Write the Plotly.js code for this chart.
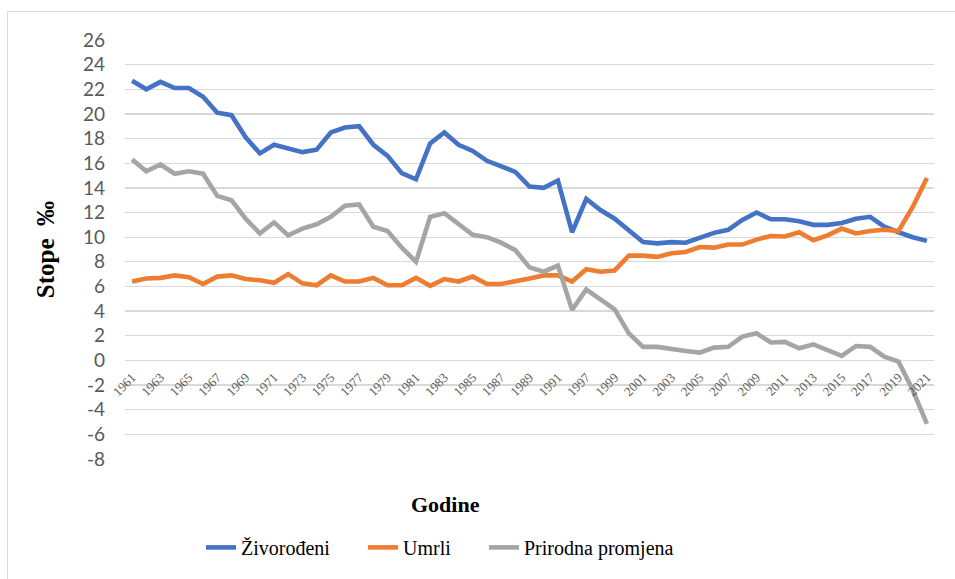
<!DOCTYPE html>
<html>
<head>
<meta charset="utf-8">
<script src="https://cdn.plot.ly/plotly-3.0.1.min.js"></script>
<style>
  html, body { margin: 0; padding: 0; background: #ffffff; }
  #frame { position: absolute; left: 7px; top: 11px; width: 1000px; height: 600px;
           border-left: 1px solid #d9d9d9; border-top: 1px solid #d9d9d9; }
  #chart { position: absolute; left: 0; top: 0; width: 955px; height: 579px; }
</style>
</head>
<body>
<div id="frame"></div>
<div id="chart"></div>
<script>
// Categories (years); one unlabeled category sits between 1991 and 1997
const years = [
  "1961","1962","1963","1964","1965","1966","1967","1968","1969","1970",
  "1971","1972","1973","1974","1975","1976","1977","1978","1979","1980",
  "1981","1982","1983","1984","1985","1986","1987","1988","1989","1990",
  "1991","1996","1997","1998","1999","2000","2001","2002","2003","2004",
  "2005","2006","2007","2008","2009","2010","2011","2012","2013","2014",
  "2015","2016","2017","2018","2019","2020","2021"
];

// Živorođeni (live births, ‰)
const zivorodeni = [
  22.7, 22.0, 22.6, 22.1, 22.1, 21.4, 20.1, 19.9, 18.1, 16.8,
  17.5, 17.2, 16.9, 17.1, 18.5, 18.9, 19.0, 17.5, 16.6, 15.2,
  14.7, 17.6, 18.5, 17.5, 17.0, 16.2, 15.7, 15.3, 14.1, 14.0,
  14.6, 10.4, 13.1, 12.2, 11.5, 10.6, 9.6, 9.5, 9.6, 9.55,
  10.0, 10.35, 10.6, 11.4, 12.0, 11.45, 11.45, 11.3, 11.0, 11.0,
  11.15, 11.5, 11.65, 10.85, 10.4, 10.0, 9.7
];

// Umrli (deaths, ‰)
const umrli = [
  6.4, 6.65, 6.7, 6.9, 6.75, 6.2, 6.8, 6.9, 6.6, 6.5,
  6.3, 7.0, 6.25, 6.1, 6.9, 6.4, 6.4, 6.7, 6.1, 6.1,
  6.7, 6.05, 6.6, 6.4, 6.8, 6.2, 6.2, 6.4, 6.65, 6.9,
  6.9, 6.4, 7.4, 7.2, 7.3, 8.5, 8.5, 8.4, 8.7, 8.8,
  9.2, 9.15, 9.4, 9.4, 9.8, 10.1, 10.05, 10.4, 9.75, 10.15,
  10.7, 10.3, 10.5, 10.6, 10.5, 12.45, 14.8
];

// Prirodna promjena (natural change, ‰)
const prirodna = [
  16.3, 15.35, 15.9, 15.15, 15.35, 15.15, 13.35, 13.0, 11.5, 10.3,
  11.2, 10.15, 10.7, 11.05, 11.65, 12.55, 12.65, 10.85, 10.5, 9.15,
  8.0, 11.65, 11.95, 11.1, 10.2, 10.0, 9.55, 8.95, 7.55, 7.2,
  7.7, 4.1, 5.75, 4.95, 4.15, 2.2, 1.1, 1.1, 0.9, 0.77,
  0.63, 1.04, 1.1, 1.93, 2.2, 1.45, 1.5, 0.98, 1.3, 0.85,
  0.36, 1.17, 1.1, 0.3, -0.1, -2.4, -5.15
];

const seriesNames = ["Živorođeni", "Umrli", "Prirodna promjena"];
const seriesColors = ["#4472C4", "#ED7D31", "#A5A5A5"];
const yTickMin = -8, yTickMax = 26, yTickStep = 2;

// every other category is labeled
const tickYears = years.filter((y, i) => i % 2 === 0);
// y ticks with a plain hyphen-minus, as in the original
const yTickVals = [];
for (let v = yTickMin; v <= yTickMax; v += yTickStep) yTickVals.push(v);
const yTickText = yTickVals.map(v => String(v));

const SERIF = "Liberation Serif";
const legendKeys = ["legend", "legend2", "legend3"];

const seriesData = [zivorodeni, umrli, prirodna];
const traces = seriesData.map((vals, k) => ({
  type: "scatter",
  mode: "lines",
  x: years,
  y: vals,
  name: seriesNames[k],
  legend: legendKeys[k],
  line: { color: seriesColors[k], width: 4.6, shape: "linear" },
  hoverinfo: "x+y+name"
}));

const zeroFrac = (0 - yTickMin) / (yTickMax - yTickMin);

// plot area in pixels
const PL = 125, PR = 934, PT = 40, PB = 459.5;
const pw = PR - PL, ph = PB - PT;
const px = X => (X - PL) / pw;
const py = Y => (PB - Y) / ph;

function legendAt(xpix) {
  return {
    orientation: "h",
    x: px(xpix), xanchor: "left",
    y: py(548), yanchor: "middle",
    bgcolor: "rgba(0,0,0,0)",
    font: { family: SERIF, size: 20, color: "#000000" }
  };
}

const layout = {
  width: 955,
  height: 579,
  margin: { l: PL, r: 955 - PR, t: PT, b: 579 - PB, autoexpand: false },
  paper_bgcolor: "rgba(0,0,0,0)",
  plot_bgcolor: "rgba(0,0,0,0)",
  showlegend: true,
  legend: legendAt(201),
  legend2: legendAt(363),
  legend3: legendAt(484),
  xaxis: {
    type: "category",
    range: [-0.5, years.length - 0.5],
    anchor: "free",
    position: zeroFrac,
    showgrid: false,
    zeroline: false,
    showline: false,
    ticks: "",
    tickmode: "array",
    tickvals: tickYears,
    ticktext: tickYears,
    tickangle: -45,
    ticklabelstandoff: 6,
    tickfont: { family: SERIF, size: 13, color: "#595959" }
  },
  yaxis: {
    range: [yTickMin, yTickMax],
    tickmode: "array",
    tickvals: yTickVals,
    ticktext: yTickText,
    showgrid: true,
    gridcolor: "#d9d9d9",
    gridwidth: 1.3,
    zeroline: false,
    showline: false,
    ticks: "",
    ticklabelstandoff: 19,
    tickfont: { family: "Lato", size: 19, color: "#595959" },
    title: {
      text: "Stope  ‰",
      font: { family: SERIF, size: 25, color: "#000000", weight: "bold" },
      standoff: 21
    }
  },
  annotations: [{
    text: "<b>Godine</b>",
    xref: "paper", yref: "paper",
    x: px(445), y: py(505),
    xanchor: "center", yanchor: "middle",
    showarrow: false,
    font: { family: SERIF, size: 22, color: "#000000" }
  }]
};

Plotly.newPlot("chart", traces, layout, { displayModeBar: false, staticPlot: true });
</script>
</body>
</html>
